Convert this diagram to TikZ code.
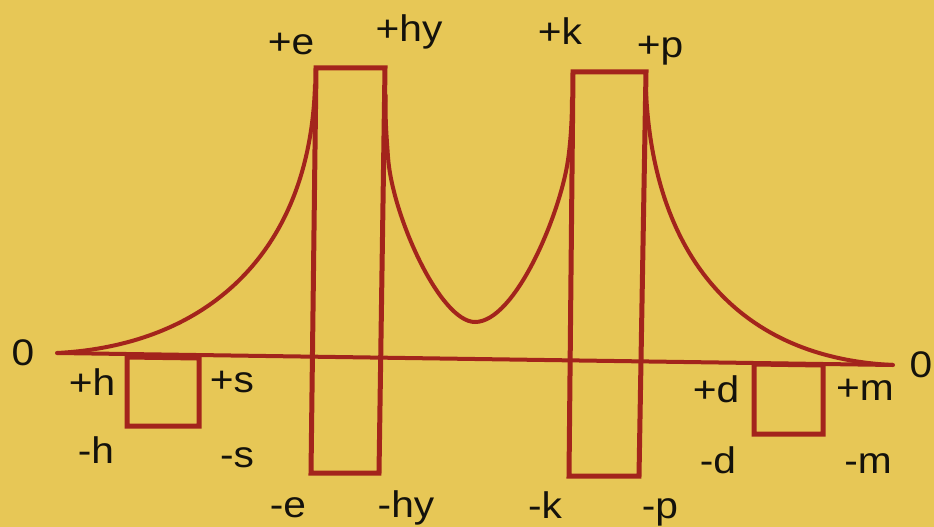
\documentclass[tikz,border=0pt]{standalone}
\usepackage{fontspec}
\setmainfont{Liberation Sans}
\newfontfamily\lblfont[FakeStretch=1.1]{Liberation Sans}
\definecolor{bgyellow}{RGB}{231,199,86}
\definecolor{wire}{RGB}{163,36,28}
\definecolor{ink}{RGB}{20,18,12}
\tikzset{
  lbl/.style={anchor=base, inner sep=0pt, font=\lblfont\fontsize{37}{37}\selectfont, text=ink},
  boxline/.style={draw=wire, line width=5pt, line join=miter},
  curveline/.style={draw=wire, line width=4pt, line cap=round},
}
\begin{document}
\begin{tikzpicture}[x=1pt,y=-1pt]
\fill[bgyellow] (0,0) rectangle (934,527);
\useasboundingbox (0,0) rectangle (934,527);
% baseline
\draw[curveline, line cap=butt] (57,353) -- (893,365);
% small boxes
\draw[boxline] (127,357) -- (127,426) -- (199,426) -- (199,358) -- cycle;
\draw[boxline] (754,364) -- (754,434) -- (823,434) -- (823,365) -- cycle;
% big boxes
\draw[boxline] (316,68) -- (385,68) -- (379,473) -- (311,473) -- cycle;
\draw[boxline] (573,72) -- (646,72) -- (639,476) -- (569,476) -- cycle;
% curves
\draw[curveline] (57,353) .. controls (210,345) and (310,250) .. (315,85);
\draw[curveline] (385.5,95) .. controls (385.5,125) and (386,128) .. (388,157)
  .. controls (392,215) and (440,322) .. (475,322)
  .. controls (515,322) and (560,215) .. (568,160)
  .. controls (570,146) and (572,125) .. (572,98);
\draw[curveline] (646,92) .. controls (654,258) and (740,358) .. (893,365);
% labels
\node[lbl] (z1) at (23,365) {0};
\node[lbl] (z2) at (921,377) {0};
\node[lbl] (ph) at (92,395) {+h};
\node[lbl] (ps) at (232,392) {+s};
\node[lbl] (mh) at (96,463) {-h};
\node[lbl] (ms) at (237,467) {-s};
\node[lbl] (pe) at (291,55) {+e};
\node[lbl] (phy) at (409,42) {+hy};
\node[lbl] (pk) at (560,45) {+k};
\node[lbl] (pp) at (660,58) {+p};
\node[lbl] (me) at (288,517) {-e};
\node[lbl] (mhy) at (406,517) {-hy};
\node[lbl] (mk) at (545,518) {-k};
\node[lbl] (mp) at (660,518) {-p};
\node[lbl] (pd) at (716,402) {+d};
\node[lbl] (pm) at (865,400) {+m};
\node[lbl] (md) at (718,473) {-d};
\node[lbl] (mm) at (868,473) {-m};
\end{tikzpicture}
\end{document}
